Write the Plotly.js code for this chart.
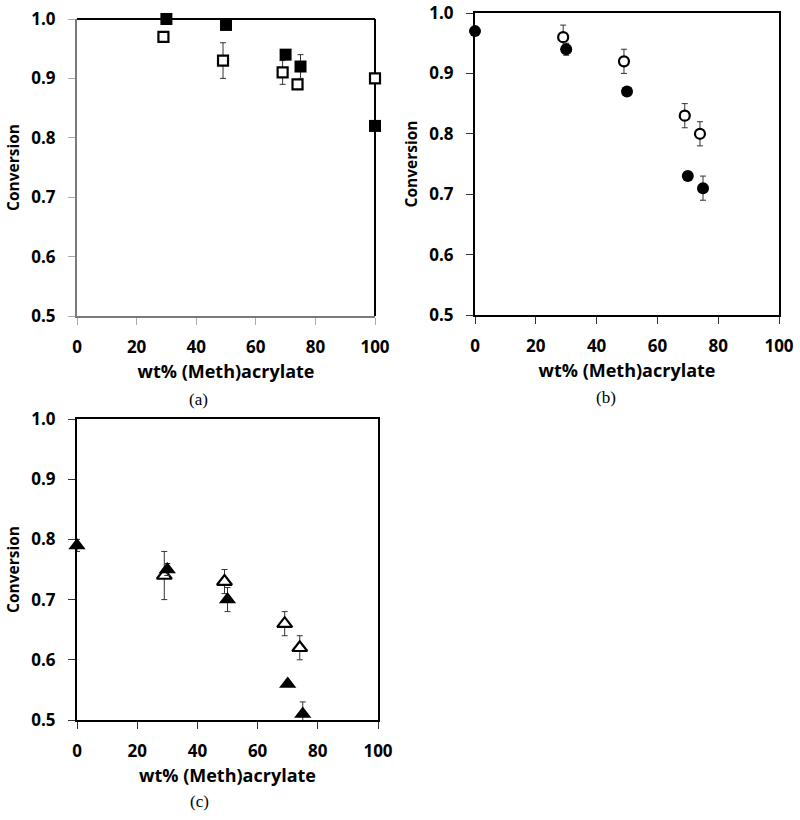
<!DOCTYPE html>
<html>
<head>
<meta charset="utf-8">
<script src="https://cdn.plot.ly/plotly-3.0.1.min.js"></script>
<style>html,body{margin:0;padding:0;background:#fff;}#chart{width:800px;height:820px;}</style>
</head>
<body>
<div id="chart"></div>
<script>
// Panel (a): squares
const aOpenX = [29, 49, 69, 74, 100];
const aOpenY = [0.97, 0.93, 0.91, 0.89, 0.90];
const aOpenErr = [0, 0.03, 0.02, 0, 0];
const aFillX = [30, 50, 70, 75, 100];
const aFillY = [1.00, 0.99, 0.94, 0.92, 0.82];
const aFillErr = [0, 0, 0, 0.02, 0];
// Panel (b): circles
const bOpenX = [29, 49, 69, 74];
const bOpenY = [0.96, 0.92, 0.83, 0.80];
const bOpenErr = [0.02, 0.02, 0.02, 0.02];
const bFillX = [0, 30, 50, 70, 75];
const bFillY = [0.97, 0.94, 0.87, 0.73, 0.71];
const bFillErr = [0, 0.01, 0, 0, 0.02];
// Panel (c): triangles
const cOpenX = [29, 49, 69, 74];
const cOpenY = [0.74, 0.73, 0.66, 0.62];
const cOpenErr = [0.04, 0.02, 0.02, 0.02];
const cFillX = [0, 30, 50, 70, 75];
const cFillY = [0.79, 0.75, 0.70, 0.56, 0.51];
const cFillErr = [0.01, 0.01, 0.02, 0, 0.02];

const xTickVals = [0, 20, 40, 60, 80, 100];
const xTickText = ['0', '20', '40', '60', '80', '100'];
const yTickVals = [0.5, 0.6, 0.7, 0.8, 0.9, 1.0];
const yTickText = ['0.5', '0.6', '0.7', '0.8', '0.9', '1.0'];
const xTitle = 'wt% (Meth)acrylate';
const yTitle = 'Conversion';
const captions = ['(a)', '(b)', '(c)'];

function mk(x, y, err, sym, filled, xa, ya) {
  const tri = sym.indexOf('triangle') === 0;
  return {
    type: 'scatter', mode: 'markers', x: x, y: y, xaxis: xa, yaxis: ya,
    cliponaxis: false, showlegend: false, hoverinfo: 'skip',
    error_y: {type: 'data', array: err, visible: true, color: '#333', thickness: 1, width: 3},
    marker: {
      symbol: sym, size: tri ? (filled ? 15 : 13) : (filled ? 12 : 10),
      color: filled ? '#000' : '#fff',
      line: {color: '#000', width: filled ? 0 : 2.2}
    }
  };
}

const data = [
  mk(aOpenX, aOpenY, aOpenErr, 'square', false, 'x', 'y'),
  mk(aFillX, aFillY, aFillErr, 'square', true, 'x', 'y'),
  mk(bOpenX, bOpenY, bOpenErr, 'circle', false, 'x2', 'y2'),
  mk(bFillX, bFillY, bFillErr, 'circle', true, 'x2', 'y2'),
  mk(cOpenX, cOpenY, cOpenErr, 'triangle-up', false, 'x3', 'y3'),
  mk(cFillX, cFillY, cFillErr, 'triangle-up', true, 'x3', 'y3')
];

const tickFont = {family: 'Open Sans, sans-serif', size: 17, color: '#000', weight: 700};
const xTitleFont = {family: 'Open Sans, sans-serif', size: 18, color: '#000', weight: 700};
const yTitleFont = {family: 'Open Sans, sans-serif', size: 15.5, color: '#000', weight: 700};

function xax(domain, anchor, lc, tc, mirror) {
  return {
    domain: domain, anchor: anchor, range: [0, 100], tickvals: xTickVals, ticktext: xTickText,
    ticks: 'outside', ticklen: 7, tickcolor: tc, tickwidth: 1,
    showline: true, linecolor: lc, linewidth: 2, mirror: mirror,
    showgrid: false, zeroline: false, fixedrange: true,
    tickfont: tickFont, ticklabelstandoff: 8,
    title: {text: xTitle, font: xTitleFont, standoff: 8}
  };
}
function yax(domain, anchor, lc, tc, mirror) {
  return {
    domain: domain, anchor: anchor, range: [0.5, 1.0], tickvals: yTickVals, ticktext: yTickText,
    ticks: 'outside', ticklen: 7, tickcolor: tc, tickwidth: 1,
    showline: true, linecolor: lc, linewidth: 2, mirror: mirror,
    showgrid: false, zeroline: false, fixedrange: true,
    tickfont: tickFont, ticklabelstandoff: 9,
    title: {text: yTitle, font: yTitleFont, standoff: 8}
  };
}

const capFont = {family: 'Liberation Serif, Times New Roman, serif', size: 17, color: '#000'};

const layout = {
  width: 800, height: 820,
  margin: {l: 0, r: 0, t: 0, b: 0},
  paper_bgcolor: '#fff', plot_bgcolor: '#fff',
  showlegend: false,
  xaxis: xax([77/800, 375/800], 'y', '#7a7a7a', '#aaa', false),
  yaxis: yax([1 - 316/820, 1 - 19/820], 'x', '#7a7a7a', '#aaa', false),
  xaxis2: xax([475/800, 779/800], 'y2', '#000', '#333', true),
  yaxis2: yax([1 - 315/820, 1 - 13/820], 'x2', '#000', '#333', true),
  xaxis3: xax([77/800, 378/800], 'y3', '#000', '#333', true),
  yaxis3: yax([1 - 720/820, 1 - 419/820], 'x3', '#000', '#333', true),
  shapes: [
    {type: 'line', layer: 'below', xref: 'x domain', yref: 'y domain', x0: 0, x1: 1, y0: 1, y1: 1, line: {color: '#000', width: 2}},
    {type: 'line', layer: 'below', xref: 'x domain', yref: 'y domain', x0: 1, x1: 1, y0: 0, y1: 1, line: {color: '#000', width: 2}}
  ],
  annotations: [
    {text: captions[0], xref: 'paper', yref: 'paper', x: 198/800, y: 1 - 399/820, showarrow: false, font: capFont, xanchor: 'center', yanchor: 'middle'},
    {text: captions[1], xref: 'paper', yref: 'paper', x: 606/800, y: 1 - 397/820, showarrow: false, font: capFont, xanchor: 'center', yanchor: 'middle'},
    {text: captions[2], xref: 'paper', yref: 'paper', x: 199/800, y: 1 - 801/820, showarrow: false, font: capFont, xanchor: 'center', yanchor: 'middle'}
  ]
};

Plotly.newPlot('chart', data, layout, {displayModeBar: false, staticPlot: true});
</script>
</body>
</html>
